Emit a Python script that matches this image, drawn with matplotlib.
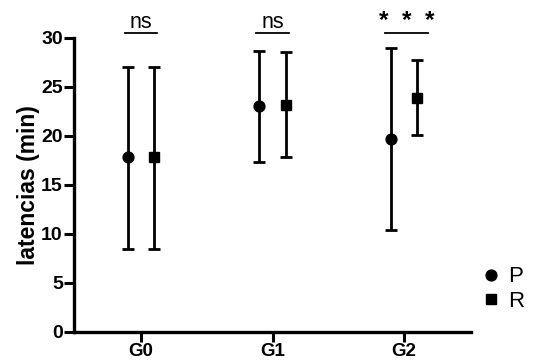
import matplotlib
matplotlib.use("Agg")
import matplotlib.pyplot as plt
from matplotlib.lines import Line2D
import numpy as np

plt.rcParams['font.family'] = ['Liberation Sans', 'DejaVu Sans']

# latencias por grupo: media y limites de la barra de error
grupos = ["G0", "G1", "G2"]
p_media = [17.8, 23.0, 19.7]
p_alto = [27.0, 28.6, 29.0]
p_bajo = [8.5, 17.3, 10.4]
r_media = [17.8, 23.1, 23.9]
r_alto = [27.0, 28.5, 27.7]
r_bajo = [8.5, 17.8, 20.1]
signif = ["ns", "ns", "*  *  *"]

x = np.arange(len(grupos))
off = 0.1

fig = plt.figure(figsize=(5.36, 3.63), dpi=100)
ax = fig.add_axes([0.138, 0.0854, 0.741, 0.8106])

def serie(xs, media, alto, bajo, marker, ms):
	media = np.array(media)
	err = [media - np.array(bajo), np.array(alto) - media]
	ax.errorbar(xs, media, yerr=err, fmt=marker, color='black', ms=ms,
	            elinewidth=2, capsize=4, capthick=2)

serie(x - off, p_media, p_alto, p_bajo, 'o', 7.8)
serie(x + off, r_media, r_alto, r_bajo, 's', 7.2)

# marcas de significancia sobre cada grupo
centro = [0.0, 0.0, 0.02]
ancho = [0.125, 0.125, 0.165]
for i, s in enumerate(signif):
	c = x[i] + centro[i]
	top = 30.45
	ax.plot([c - ancho[i], c + ancho[i]], [top, top], color='black', lw=1.3,
	        clip_on=False)
	if s == "ns":
		ax.text(c, top + 0.05, s, ha='center', va='bottom', fontsize=15.5,
		        clip_on=False)
	else:
		ax.text(c, 31.7, s, ha='center', va='center', fontsize=17.5,
		        fontweight='bold', clip_on=False)

ax.set_xlim(-0.51, 2.51)
ax.set_ylim(0, 30)
ax.set_yticks([0, 5, 10, 15, 20, 25, 30])
ax.set_xticks(x)
ax.set_xticklabels(grupos)
for lab in ax.get_yticklabels():
	lab.set_fontweight('bold')
	lab.set_fontsize(14)
for lab in ax.get_xticklabels():
	lab.set_fontweight('bold')
	lab.set_fontsize(13.5)
ax.tick_params(width=2.2, length=7, pad=1)
ax.set_ylabel("latencias (min)", fontsize=16.5, fontweight='bold', labelpad=1)

for side in ['top', 'right']:
	ax.spines[side].set_visible(False)
for side in ['left', 'bottom']:
	ax.spines[side].set_linewidth(2.4)

handles = [Line2D([], [], ls='none', marker='o', ms=7.8, color='black'),
           Line2D([], [], ls='none', marker='s', ms=7.0, color='black')]
fig.legend(handles, ['P', 'R'], loc='center left',
           bbox_to_anchor=(0.896, 0.204), frameon=False, fontsize=16,
           borderpad=0, borderaxespad=0, handlelength=1.0,
           handletextpad=0.25, labelspacing=0.15)

plt.savefig("out.png", dpi=100)
